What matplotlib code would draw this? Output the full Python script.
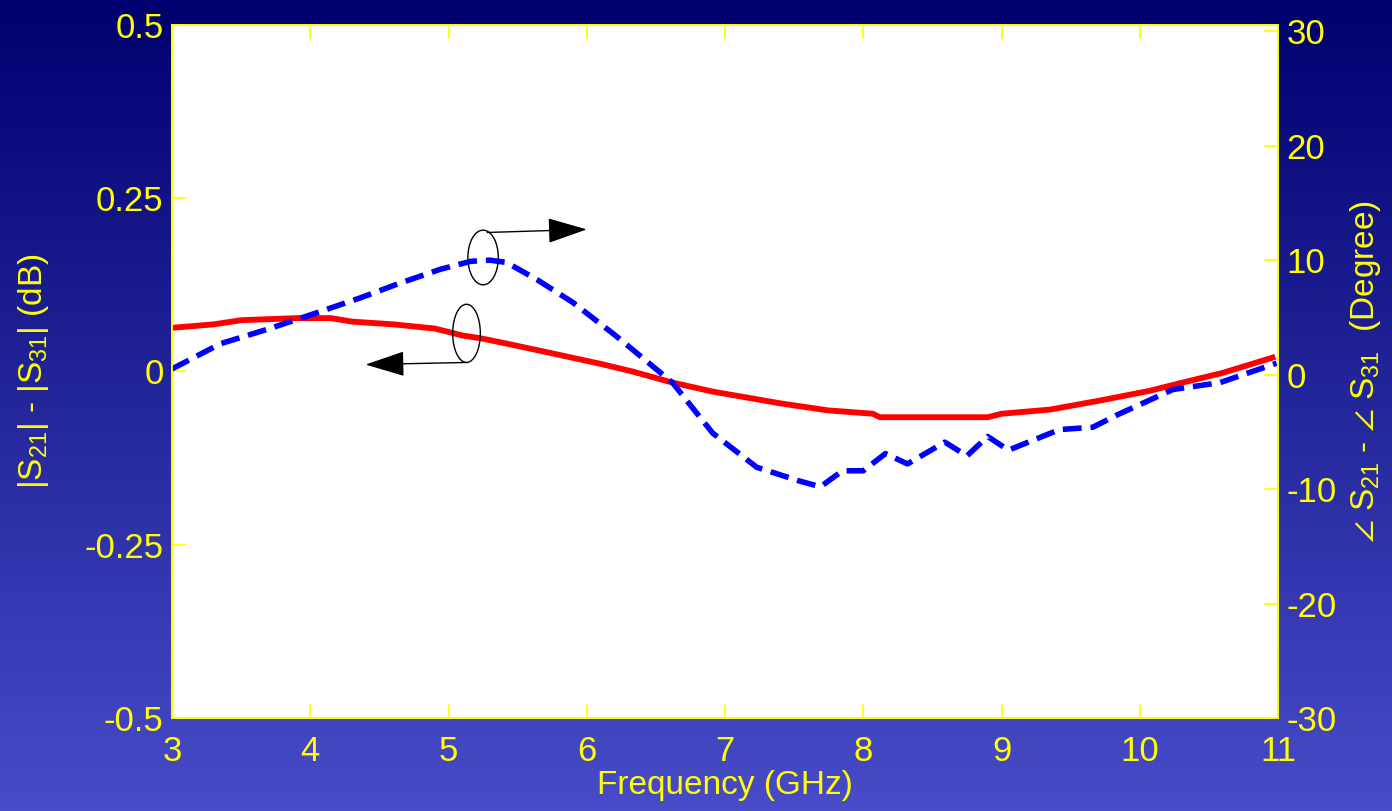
import numpy as np
import matplotlib
matplotlib.use('Agg')
import matplotlib.pyplot as plt
from matplotlib.patches import Ellipse

plt.rcParams['font.family'] = ['Liberation Sans', 'DejaVu Sans']
plt.rcParams['mathtext.fontset'] = 'custom'
plt.rcParams['mathtext.rm'] = 'Liberation Sans'
plt.rcParams['mathtext.it'] = 'Liberation Sans'
plt.rcParams['mathtext.fallback'] = 'stixsans'
plt.rcParams['axes.unicode_minus'] = False

# magnitude difference (dB), left axis
freq_mag = [3.0, 3.3, 3.5, 3.9, 4.15, 4.3, 4.6, 4.9, 5.1, 5.23, 5.45, 5.73, 6.1, 6.33,
            6.62, 6.91, 7.4, 7.74, 8.07, 8.12, 8.9, 9.0, 9.35, 9.71, 10.07, 10.31, 10.6, 10.96]
mag_diff = [0.063, 0.068, 0.074, 0.077, 0.077, 0.072, 0.068, 0.062, 0.052, 0.048, 0.039, 0.027,
            0.011, 0.000, -0.016, -0.029, -0.046, -0.056, -0.061, -0.066, -0.066, -0.061,
            -0.055, -0.042, -0.028, -0.016, -0.002, 0.020]

# phase difference (degree), right axis
freq_ph = [3.0, 3.35, 3.7, 4.07, 4.36, 4.65, 4.94, 5.16, 5.3, 5.42, 5.64, 5.9, 6.22, 6.62,
           6.91, 7.23, 7.54, 7.69, 7.85, 8.0, 8.16, 8.32, 8.59, 8.75, 8.9, 9.05, 9.42, 9.66,
           9.84, 10.24, 10.58, 10.99]
ph_diff = [0.5, 2.7, 4.0, 5.5, 6.7, 8.0, 9.2, 9.9, 10.0, 9.8, 8.3, 6.3, 3.3, -0.7,
           -5.1, -8.1, -9.3, -9.8, -8.4, -8.4, -6.9, -7.8, -5.9, -7.1, -5.4, -6.6, -4.8, -4.6,
           -3.5, -1.3, -0.7, 1.0]

x_ticks = [3, 4, 5, 6, 7, 8, 9, 10, 11]
left_ticks = [-0.5, -0.25, 0, 0.25, 0.5]
left_labels = ['-0.5', '-0.25', '0', '0.25', '0.5']
right_ticks = [-30, -20, -10, 0, 10, 20, 30]

yel = '#ffff00'
fig = plt.figure(figsize=(13.92, 8.11), dpi=100)

# gradient background
bg = fig.add_axes([0, 0, 1, 1], zorder=-10)
top = np.array([0, 0, 110]) / 255.
bot = np.array([72, 76, 200]) / 255.
t = np.linspace(0, 1, 256)[:, None]
grad = (top[None, :] * (1 - t) + bot[None, :] * t)[:, None, :]
bg.imshow(grad, aspect='auto', extent=[0, 1, 0, 1])
bg.axis('off')

ax = fig.add_axes([0.1236, 0.1147, 0.7945, 0.8545])
ax.set_facecolor('white')
ax2 = ax.twinx()

ax.plot(freq_mag, mag_diff, color='red', lw=4.2, zorder=3)
ax2.plot(freq_ph, ph_diff, color='blue', lw=4.0, dashes=(3.4, 1.6))

ax.set_xlim(3, 11)
ax.set_ylim(-0.5, 0.5)
ax2.set_ylim(-30, 30.55)
ax.set_xticks(x_ticks)
ax.set_yticks(left_ticks)
ax.set_yticklabels(left_labels)
ax2.set_yticks(right_ticks)

for a in (ax, ax2):
    for s in a.spines.values():
        s.set_color(yel)
        s.set_linewidth(1.3)
    a.tick_params(colors=yel, labelsize=25, direction='in', length=10, width=1.3)
ax.tick_params(axis='x', top=True, pad=12)
ax.tick_params(axis='y', pad=6)
ax2.tick_params(axis='y', pad=6)

ax.set_xlabel('Frequency (GHz)', color=yel, fontsize=24, labelpad=2)
ax.set_ylabel(r'|S$_{21}$| - |S$_{31}$| (dB)', color=yel, fontsize=24, labelpad=24)
ax2.set_ylabel(r'$\angle$ S$_{21}$ - $\angle$ S$_{31}$  (Degree)', color=yel, fontsize=24, labelpad=8)

# annotation ellipses and arrows
ax.add_patch(Ellipse((5.25, 0.1645), 0.22, 0.079, fill=False, ec='black', lw=1, zorder=5))
ax.add_patch(Ellipse((5.13, 0.055), 0.2, 0.084, fill=False, ec='black', lw=1, zorder=5))
head = '-|>,head_length=2.5,head_width=0.8'
ax.annotate('', xy=(6.0, 0.205), xytext=(5.28, 0.2006),
            arrowprops=dict(arrowstyle=head, color='black', lw=1, shrinkA=0, shrinkB=0), zorder=6)
ax.annotate('', xy=(4.4, 0.010), xytext=(5.13, 0.013),
            arrowprops=dict(arrowstyle=head, color='black', lw=1, shrinkA=0, shrinkB=0), zorder=6)

fig.savefig('out.png', dpi=100)
